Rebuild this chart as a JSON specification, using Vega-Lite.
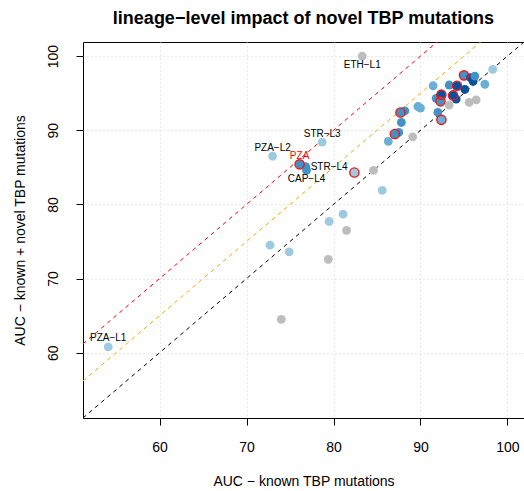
{
  "$schema": "https://vega.github.io/schema/vega-lite/v6.json",
  "autosize": {"type": "none"},
  "width": 441,
  "height": 376,
  "padding": {"left": 83, "top": 42, "right": 0, "bottom": 73},
  "background": "white",
  "title": {"text": "lineage−level impact of novel TBP mutations", "fontSize": 18, "font": "Liberation Sans", "fontWeight": "bold", "anchor": "middle", "offset": 14, "color": "black"},
  "config": {"view": {"stroke": "black", "strokeWidth": 1}, "font": "Liberation Sans"},
  "datasets": {
    "points": [
      {"x": 54.1, "y": 60.8, "shade": "light", "sig": false, "label": "PZA−L1"},
      {"x": 83.3, "y": 100.0, "shade": "grey", "sig": false, "label": "ETH−L1"},
      {"x": 73.0, "y": 86.5, "shade": "light", "sig": false, "label": "PZA−L2"},
      {"x": 78.7, "y": 88.4, "shade": "light", "sig": false, "label": "STR−L3"},
      {"x": 76.1, "y": 85.4, "shade": "mid", "sig": true, "label": "PZA"},
      {"x": 76.8, "y": 85.1, "shade": "mid", "sig": false, "label": "STR−L4"},
      {"x": 76.9, "y": 84.6, "shade": "mid", "sig": false, "label": "CAP−L4"},
      {"x": 74.0, "y": 64.5, "shade": "grey", "sig": false, "label": ""},
      {"x": 72.7, "y": 74.5, "shade": "light", "sig": false, "label": ""},
      {"x": 74.9, "y": 73.6, "shade": "light", "sig": false, "label": ""},
      {"x": 79.4, "y": 72.6, "shade": "grey", "sig": false, "label": ""},
      {"x": 79.5, "y": 77.7, "shade": "light", "sig": false, "label": ""},
      {"x": 81.1, "y": 78.7, "shade": "light", "sig": false, "label": ""},
      {"x": 81.5, "y": 76.5, "shade": "grey", "sig": false, "label": ""},
      {"x": 82.4, "y": 84.3, "shade": "light", "sig": true, "label": ""},
      {"x": 84.6, "y": 84.6, "shade": "grey", "sig": false, "label": ""},
      {"x": 85.6, "y": 81.9, "shade": "light", "sig": false, "label": ""},
      {"x": 86.3, "y": 88.5, "shade": "midlight", "sig": false, "label": ""},
      {"x": 87.05, "y": 89.5, "shade": "mid", "sig": true, "label": ""},
      {"x": 87.5, "y": 89.7, "shade": "mid", "sig": false, "label": ""},
      {"x": 89.1, "y": 89.1, "shade": "grey", "sig": false, "label": ""},
      {"x": 87.8, "y": 91.05, "shade": "mid", "sig": false, "label": ""},
      {"x": 87.7, "y": 92.4, "shade": "mid", "sig": true, "label": ""},
      {"x": 88.2, "y": 92.6, "shade": "mid", "sig": false, "label": ""},
      {"x": 89.7, "y": 93.2, "shade": "midlight", "sig": false, "label": ""},
      {"x": 90.0, "y": 93.0, "shade": "midlight", "sig": false, "label": ""},
      {"x": 91.45, "y": 96.0, "shade": "midlight", "sig": false, "label": ""},
      {"x": 91.8, "y": 94.3, "shade": "mid", "sig": false, "label": ""},
      {"x": 92.0, "y": 92.4, "shade": "mid", "sig": false, "label": ""},
      {"x": 92.4, "y": 91.4, "shade": "midlight", "sig": true, "label": ""},
      {"x": 92.4, "y": 94.8, "shade": "dark", "sig": true, "label": ""},
      {"x": 92.3, "y": 93.9, "shade": "mid", "sig": true, "label": ""},
      {"x": 93.3, "y": 93.4, "shade": "grey", "sig": false, "label": ""},
      {"x": 93.75, "y": 94.7, "shade": "dark", "sig": true, "label": ""},
      {"x": 94.1, "y": 94.2, "shade": "dark", "sig": false, "label": ""},
      {"x": 93.3, "y": 96.1, "shade": "mid", "sig": false, "label": ""},
      {"x": 94.2, "y": 96.0, "shade": "dark", "sig": true, "label": ""},
      {"x": 95.0, "y": 97.4, "shade": "mid", "sig": true, "label": ""},
      {"x": 96.05, "y": 96.6, "shade": "dark", "sig": false, "label": ""},
      {"x": 95.75, "y": 97.1, "shade": "dark", "sig": false, "label": ""},
      {"x": 96.25, "y": 97.3, "shade": "mid", "sig": false, "label": ""},
      {"x": 95.1, "y": 95.5, "shade": "dark", "sig": false, "label": ""},
      {"x": 95.6, "y": 93.75, "shade": "grey", "sig": false, "label": ""},
      {"x": 96.4, "y": 94.1, "shade": "grey", "sig": false, "label": ""},
      {"x": 97.4, "y": 96.2, "shade": "midlight", "sig": false, "label": ""},
      {"x": 98.3, "y": 98.2, "shade": "light", "sig": false, "label": ""}
    ],
    "refs": [
      {"ref": "equal", "x": 40, "y": 40},
      {"ref": "equal", "x": 110, "y": 110},
      {"ref": "plus5", "x": 40, "y": 45},
      {"ref": "plus5", "x": 110, "y": 115},
      {"ref": "plus10", "x": 40, "y": 50},
      {"ref": "plus10", "x": 110, "y": 120}
    ]
  },
  "resolve": {"scale": {"color": "independent"}},
  "layer": [
    {
      "data": {"name": "refs"},
      "mark": {"type": "line", "clip": true, "strokeDash": [4, 4], "strokeWidth": 1},
      "encoding": {
        "x": {"field": "x", "type": "quantitative", "scale": {"domain": [51.2, 101.9], "nice": false, "zero": false},
          "axis": {"title": "AUC − known TBP mutations", "values": [60, 70, 80, 90, 100], "grid": true, "gridColor": "#d3d3d3", "gridDash": [1, 3], "gridWidth": 1, "domain": false, "tickColor": "black", "tickSize": 7, "labelFontSize": 14, "labelColor": "black", "labelFont": "Liberation Sans", "labelPadding": 22, "labelBaseline": "middle", "labelFlush": false, "titleFont": "Liberation Sans", "titleFontSize": 14, "titleFontWeight": "normal", "titleColor": "black", "titlePadding": 20}},
        "y": {"field": "y", "type": "quantitative", "scale": {"domain": [51.2, 101.9], "nice": false, "zero": false},
          "axis": {"title": "AUC − known + novel TBP mutations", "values": [60, 70, 80, 90, 100], "grid": true, "gridColor": "#d3d3d3", "gridDash": [1, 3], "gridWidth": 1, "domain": false, "tickColor": "black", "tickSize": 7, "labelFontSize": 14, "labelColor": "black", "labelFont": "Liberation Sans", "labelAngle": -90, "labelAlign": "center", "labelBaseline": "alphabetic", "labelPadding": 19, "labelFlush": false, "titleFont": "Liberation Sans", "titleFontSize": 14, "titleFontWeight": "normal", "titleColor": "black", "titlePadding": 19}},
        "color": {"field": "ref", "type": "nominal", "scale": {"domain": ["equal", "plus5", "plus10"], "range": ["black", "orange", "red"]}, "legend": null},
        "detail": {"field": "ref"}
      }
    },
    {
      "data": {"name": "points"},
      "mark": {"type": "circle", "size": 78, "opacity": 1},
      "encoding": {
        "x": {"field": "x", "type": "quantitative"},
        "y": {"field": "y", "type": "quantitative"},
        "color": {"field": "shade", "type": "nominal", "scale": {"domain": ["grey", "light", "midlight", "mid", "dark"], "range": ["#BDBDBD", "#9ECAE1", "#6BAED6", "#4292C6", "#08519C"]}, "legend": null}
      }
    },
    {
      "data": {"name": "points"},
      "transform": [{"filter": "datum.sig"}],
      "mark": {"type": "point", "shape": "circle", "filled": false, "size": 85, "stroke": "#E41A1C", "strokeWidth": 1.4, "opacity": 1},
      "encoding": {
        "x": {"field": "x", "type": "quantitative"},
        "y": {"field": "y", "type": "quantitative"}
      }
    },
    {
      "data": {"name": "points"},
      "transform": [{"filter": "indexof(['PZA−L1','PZA−L2','STR−L3','PZA'], datum.label) >= 0"}],
      "mark": {"type": "text", "fontSize": 10, "font": "Liberation Sans", "baseline": "middle", "align": "center", "dy": -8.5},
      "encoding": {
        "x": {"field": "x", "type": "quantitative"},
        "y": {"field": "y", "type": "quantitative"},
        "text": {"field": "label"},
        "color": {"condition": {"test": "datum.label === 'PZA'", "value": "red"}, "value": "black"}
      }
    },
    {
      "data": {"name": "points"},
      "transform": [{"filter": "indexof(['ETH−L1','CAP−L4'], datum.label) >= 0"}],
      "mark": {"type": "text", "fontSize": 10, "font": "Liberation Sans", "baseline": "middle", "align": "center", "dy": 9, "color": "black"},
      "encoding": {
        "x": {"field": "x", "type": "quantitative"},
        "y": {"field": "y", "type": "quantitative"},
        "text": {"field": "label"}
      }
    },
    {
      "data": {"name": "points"},
      "transform": [{"filter": "datum.label === 'STR−L4'"}],
      "mark": {"type": "text", "fontSize": 10, "font": "Liberation Sans", "baseline": "middle", "align": "left", "dx": 5, "color": "black"},
      "encoding": {
        "x": {"field": "x", "type": "quantitative"},
        "y": {"field": "y", "type": "quantitative"},
        "text": {"field": "label"}
      }
    }
  ]
}
